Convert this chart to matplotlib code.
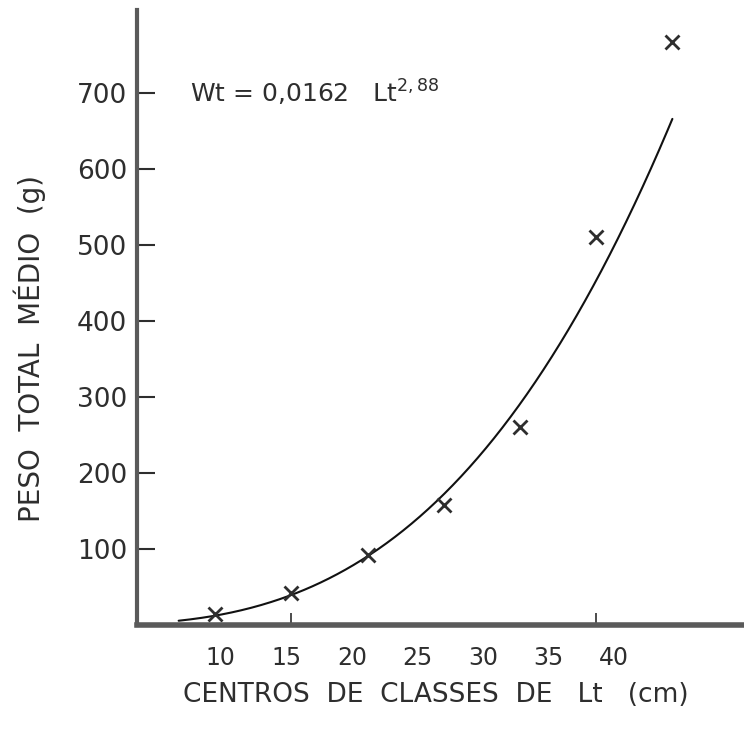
import numpy as np
import matplotlib
matplotlib.use("Agg")
import matplotlib.pyplot as plt

# Mean total weight per length class
lt_classes = [10, 15, 20, 25, 30, 35, 40]
wt_mean = [14, 42, 92, 158, 260, 510, 767]

# Length-weight relationship Wt = a * Lt^b
coef_a = 0.0162
coef_b = 2.88
curve_start = 7.6
curve_end = 40

y_ticks = [100, 200, 300, 400, 500, 600, 700]
x_tick_labels = [10, 15, 20, 25, 30, 35, 40]
x_tick_marks = [15, 35]

ink = "#2e2e2e"
axis_ink = "#5a5a5a"

fig = plt.figure(figsize=(7.44, 7.29), dpi=100)
ax = fig.add_axes([0.184, 0.1427, 0.816, 0.8433])

lt = np.linspace(curve_start, curve_end, 300)
ax.plot(lt, coef_a * lt ** coef_b, color="#111111", lw=1.5, solid_capstyle="round")
ax.plot(lt_classes, wt_mean, linestyle="none", marker="x", markersize=10,
        markeredgewidth=2.0, color=ink)

ax.set_xlim(4.86, 44.7)
ax.set_ylim(0, 809)

for side in ("top", "right"):
    ax.spines[side].set_visible(False)
ax.spines["left"].set_color(axis_ink)
ax.spines["left"].set_linewidth(3.0)
ax.spines["bottom"].set_color(axis_ink)
ax.spines["bottom"].set_linewidth(4.0)

ax.set_yticks(y_ticks)
ax.set_yticklabels([str(v) for v in y_ticks])
ax.tick_params(axis="y", direction="in", length=13, width=1.5, color=ink,
               pad=7, labelsize=19, labelcolor=ink)

ax.set_xticks(x_tick_marks)
ax.set_xticklabels([])
ax.tick_params(axis="x", direction="in", length=9, width=1.2, color=ink)

# Printed class labels sit on a slightly compressed scale
label_scale = 0.86
label_shift = 10.37


def to_label(x):
    return 10 + (np.asarray(x) - label_shift) / label_scale


def from_label(v):
    return label_shift + (np.asarray(v) - 10) * label_scale


sec = ax.secondary_xaxis("bottom", functions=(to_label, from_label))
sec.spines["bottom"].set_visible(False)
sec.set_xticks(x_tick_labels)
sec.set_xticklabels([str(v) for v in x_tick_labels])
sec.tick_params(axis="x", length=0, pad=15, labelsize=17, labelcolor=ink)

ax.set_xlabel("CENTROS  DE  CLASSES  DE   Lt   (cm)", fontsize=19, color=ink)
ax.xaxis.set_label_coords(0.493, -0.092)

ax.set_ylabel("PESO  TOTAL  MÉDIO  (g)", fontsize=20, color=ink)
ax.yaxis.set_label_coords(-0.15, 0.45)

ax.text(0.088, 0.865, r"Wt = 0,0162   Lt$^{\mathregular{2,88}}$",
        transform=ax.transAxes, fontsize=18, color=ink, ha="left", va="center")

fig.savefig("out.png", dpi=100)
